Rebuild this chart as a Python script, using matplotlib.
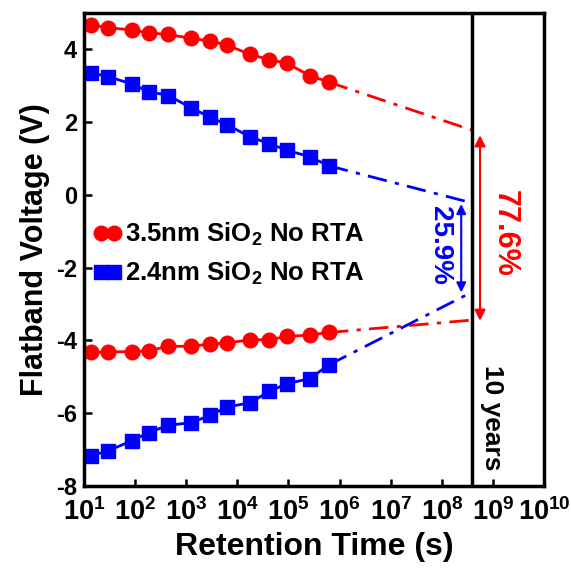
import numpy as np
import matplotlib
matplotlib.use('Agg')
import matplotlib.pyplot as plt

plt.rcParams['font.family'] = ['Liberation Sans', 'DejaVu Sans']
plt.rcParams['font.weight'] = 'bold'
plt.rcParams['mathtext.fontset'] = 'custom'
plt.rcParams['mathtext.rm'] = 'Liberation Sans:bold'
plt.rcParams['mathtext.it'] = 'Liberation Sans:bold'
plt.rcParams['mathtext.bf'] = 'Liberation Sans:bold'
plt.rcParams['mathtext.default'] = 'regular'
plt.rcParams['axes.unicode_minus'] = False

# retention time (s) of measured points
time = [13.5, 30, 85, 185, 450, 1260, 2900, 6300, 18000, 42000, 93000, 260000, 620000]

# 3.5nm SiO2: program / erase branches
red_prog = [4.68, 4.59, 4.54, 4.45, 4.41, 4.30, 4.23, 4.12, 3.86, 3.72, 3.62, 3.28, 3.10]
red_erase = [-4.33, -4.31, -4.31, -4.28, -4.16, -4.16, -4.10, -4.07, -3.98, -3.98, -3.89, -3.85, -3.78]
# 2.4nm SiO2: program / erase branches
blue_prog = [3.36, 3.25, 3.05, 2.84, 2.73, 2.39, 2.14, 1.93, 1.59, 1.41, 1.23, 1.05, 0.80]
blue_erase = [-7.17, -7.03, -6.76, -6.53, -6.33, -6.26, -6.06, -5.83, -5.71, -5.40, -5.19, -5.05, -4.67]

# extrapolated values at 10 years
ten_years = 3.9e8
red_ext = [1.78, -3.44]
blue_ext = [-0.22, -2.67]

red_label = '3.5nm SiO$_2$ No RTA'
blue_label = '2.4nm SiO$_2$ No RTA'

fig = plt.figure(figsize=(5.71, 5.69), dpi=100)
ax = fig.add_axes([84 / 571, 83 / 569, 460 / 571, 473 / 569])

ax.plot(time, red_prog, '-o', color='red', lw=2, ms=10.5, label=red_label)
ax.plot(time, red_erase, '-o', color='red', lw=2, ms=10.5)
ax.plot(time, blue_prog, '-s', color='blue', lw=2, ms=9.5, label=blue_label)
ax.plot(time, blue_erase, '-s', color='blue', lw=2, ms=9.5)

# dash-dot extrapolation to 10 years
dd = [7, 3, 1.5, 3]
ax.plot([time[-1], ten_years], [red_prog[-1], red_ext[0]], color='red', lw=2, dashes=dd)
ax.plot([time[-1], ten_years], [red_erase[-1], red_ext[1]], color='red', lw=2, dashes=dd)
ax.plot([time[-1], ten_years], [blue_prog[-1], blue_ext[0]], color='blue', lw=2, dashes=dd)
ax.plot([time[-1], ten_years], [blue_erase[-1], blue_ext[1]], color='blue', lw=2, dashes=dd)

ax.axvline(ten_years, color='black', lw=2.5)

# memory window arrows
ax.annotate('', xy=(5.6e8, 1.64), xytext=(5.6e8, -3.46),
            arrowprops=dict(arrowstyle='<|-|>', color='red', lw=1.5, mutation_scale=16,
                            shrinkA=0, shrinkB=0))
ax.annotate('', xy=(2.4e8, -0.25), xytext=(2.4e8, -2.68),
            arrowprops=dict(arrowstyle='<|-|>', color='blue', lw=1.5, mutation_scale=14,
                            shrinkA=0, shrinkB=0))
ax.text(1.74e9, -1.07, '77.6%', color='red', fontsize=22, rotation=-90,
        ha='center', va='center')
ax.text(9.3e7, -1.39, '25.9%', color='blue', fontsize=20, rotation=-90,
        ha='center', va='center')
ax.text(9.4e8, -6.12, '10 years', color='black', fontsize=19,
        rotation=-90, ha='center', va='center')

ax.set_xscale('log')
ax.set_xlim(10, 1e10)
ax.set_ylim(-8, 5)
ax.set_xticks([10.0 ** k for k in range(1, 11)])
ax.set_yticks([-8, -6, -4, -2, 0, 2, 4])

ax.tick_params(axis='both', which='both', direction='in', width=1.8)
ax.tick_params(axis='x', which='major', length=5, labelsize=19.5, pad=9)
ax.tick_params(axis='x', which='minor', length=3)
ax.tick_params(axis='y', which='major', length=6, labelsize=17, pad=5)
for s in ax.spines.values():
    s.set_linewidth(2.5)

ax.set_xlabel('Retention Time (s)', fontsize=23, fontweight='bold', labelpad=4)
ax.set_ylabel('Flatband Voltage (V)', fontsize=22, fontweight='bold', labelpad=4)

ax.legend(loc='center left', bbox_to_anchor=(0.02, 0.49), frameon=False, numpoints=2,
          fontsize=18.5, handlelength=1.1, handletextpad=0.15, borderpad=0,
          borderaxespad=0, labelspacing=0.45)

plt.savefig('out.png', dpi=100)
